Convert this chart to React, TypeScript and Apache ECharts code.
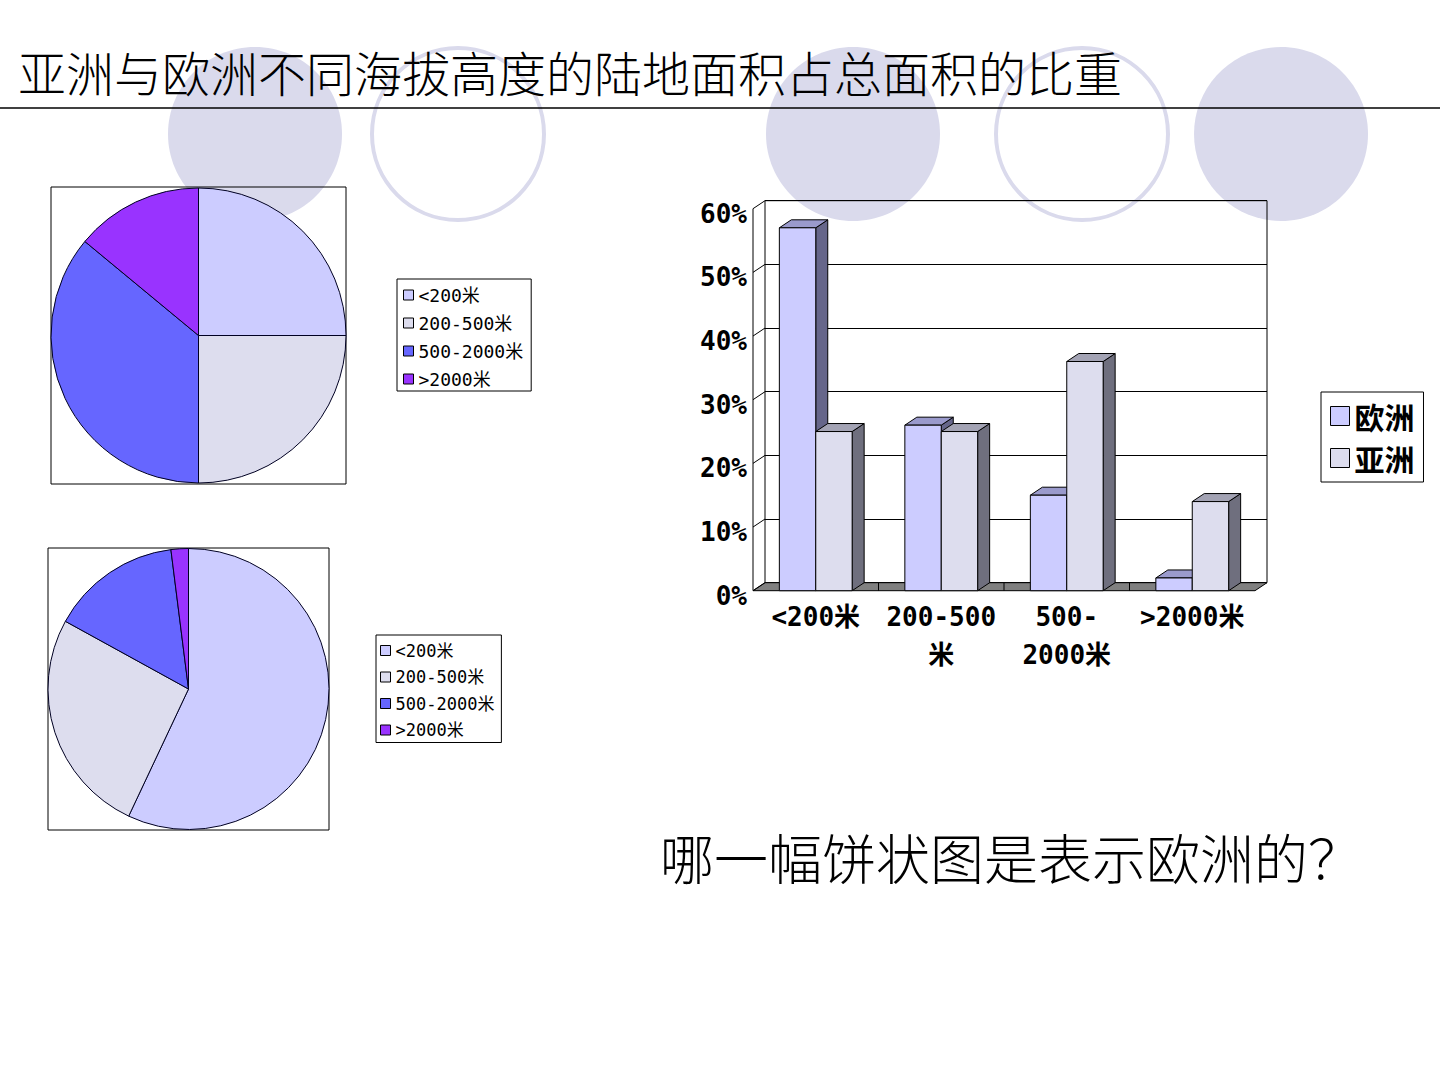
import { useEffect, useRef } from 'react';
import * as echarts from 'echarts';

// Elevation bands, shared by the pies and the bar chart
const heightBands = ['<200米', '200-500米', '500-2000米', '>2000米'];
const barAxisLabels = ['<200米', '200-500\n米', '500-\n2000米', '>2000米'];

// Share of land area in each band (%)
const europeShare = [57, 26, 15, 2];
const asiaShare = [25, 25, 36, 14];

// Value axis ticks (%)
const percentTicks = [0, 10, 20, 30, 40, 50, 60];

const seriesNames = ['欧洲', '亚洲'];
const sliceColors = ['#CCCCFF', '#DDDDEE', '#6666FF', '#9933FF'];

const europeFaces = { front: '#CCCCFF', top: '#9A9ACC', side: '#66668A' };
const asiaFaces = { front: '#DDDDEE', top: '#A3A3B4', side: '#6F6F7E' };

const titleText = '亚洲与欧洲不同海拔高度的陆地面积占总面积的比重';
const questionText = '哪一幅饼状图是表示欧洲的？';

// 3D depth offset of the bar chart (front plane is shifted left/down)
const DX = 12;
const DY = 8;

const CJK = "'Noto Sans CJK SC', sans-serif";
const MONO = "'DejaVu Sans Mono', 'Noto Sans CJK SC', monospace";

type Faces = { front: string; top: string; side: string };

function prismRenderer(slot: number, faces: Faces) {
  return (_params: any, api: any) => {
    const cat = api.value(0);
    const val = api.value(1);
    const top = api.coord([cat, val]);
    const base = api.coord([cat, 0]);
    const band = api.size([1, 0])[0];
    const w = band * 0.29;
    const bx = slot === 0 ? top[0] - w : top[0];
    const yt = top[1];
    const yb = base[1];
    const fx = bx - DX;
    const edge = { stroke: '#000', lineWidth: 1 };
    return {
      type: 'group',
      children: [
        {
          type: 'polygon',
          shape: { points: [[fx + w, yt + DY], [bx + w, yt], [bx + w, yb], [fx + w, yb + DY]] },
          style: { fill: faces.side, ...edge },
        },
        {
          type: 'polygon',
          shape: { points: [[fx, yt + DY], [fx + w, yt + DY], [bx + w, yt], [bx, yt]] },
          style: { fill: faces.top, ...edge },
        },
        {
          type: 'rect',
          shape: { x: fx, y: yt + DY, width: w, height: yb - yt },
          style: { fill: faces.front, ...edge },
        },
      ],
    };
  };
}

// Side wall, floor and front axis of the 3D plot area
function wallRenderer(params: any, api: any) {
  const cs = params.coordSys;
  const x0 = cs.x;
  const v = api.value(1);
  const y = api.coord([0, v])[1];
  const children: any[] = [
    {
      type: 'line',
      shape: { x1: x0 - DX, y1: y + DY, x2: x0, y2: y },
      style: { stroke: '#000', lineWidth: 1 },
    },
  ];
  if (v === 0) {
    const yTop = api.coord([0, percentTicks[percentTicks.length - 1]])[1];
    const band = api.size([1, 0])[0];
    children.unshift({
      type: 'polygon',
      shape: {
        points: [[x0, y], [x0 + cs.width, y], [x0 + cs.width - DX, y + DY], [x0 - DX, y + DY]],
      },
      style: { fill: '#808080', stroke: '#000', lineWidth: 1 },
    });
    for (let k = 1; k < heightBands.length; k++) {
      children.push({
        type: 'line',
        shape: { x1: x0 - DX + k * band, y1: y + DY, x2: x0 - DX + k * band, y2: y },
        style: { stroke: '#000', lineWidth: 1 },
      });
    }
    children.push({
      type: 'line',
      shape: { x1: x0 - DX, y1: y + DY, x2: x0 - DX, y2: yTop + DY },
      style: { stroke: '#000', lineWidth: 1 },
    });
  }
  return { type: 'group', children };
}

function pieLegend(left: number, top: number, fontSize: number, gap: number, padding: number[]) {
  return {
    data: heightBands,
    orient: 'vertical',
    left,
    top,
    padding,
    itemGap: gap,
    itemWidth: 10,
    itemHeight: 10,
    icon: 'rect',
    selectedMode: false,
    borderColor: '#000',
    borderWidth: 1,
    backgroundColor: '#fff',
    itemStyle: { borderColor: '#000', borderWidth: 1 },
    textStyle: { fontSize, lineHeight: fontSize + 2, color: '#000', fontFamily: MONO },
  };
}

function pieSeries(name: string, values: number[], center: number[], radius: number) {
  return {
    type: 'pie',
    name,
    center,
    radius,
    startAngle: 90,
    clockwise: true,
    silent: true,
    label: { show: false },
    labelLine: { show: false },
    itemStyle: { borderColor: '#000022', borderWidth: 1 },
    data: heightBands.map((n, i) => ({ name: n, value: values[i], itemStyle: { color: sliceColors[i] } })),
  };
}

const circleFill = '#DADAEC';
const decoCircles = [
  { cx: 255, cy: 134, fill: true },
  { cx: 458, cy: 134, fill: false },
  { cx: 853, cy: 134, fill: true },
  { cx: 1082, cy: 134, fill: false },
  { cx: 1281, cy: 134, fill: true },
];

export default function App() {
  const ref = useRef<HTMLDivElement>(null);

  useEffect(() => {
    if (!ref.current) return;
    const chart = echarts.init(ref.current, undefined, { renderer: 'svg' });

    const graphics: any[] = decoCircles.map((c) => ({
      type: 'ellipse',
      z: -10,
      shape: { cx: c.cx, cy: c.cy, rx: c.fill ? 87 : 86, ry: c.fill ? 87 : 86 },
      style: c.fill
        ? { fill: circleFill, stroke: 'none' }
        : { fill: 'none', stroke: circleFill, lineWidth: 4 },
      silent: true,
    }));

    graphics.push(
      {
        type: 'text',
        x: 18,
        y: 71,
        style: {
          text: titleText,
          fontSize: 48,
          fontWeight: 300,
          fontFamily: CJK,
          fill: '#000',
          verticalAlign: 'middle',
          textVerticalAlign: 'middle',
        },
      },
      {
        type: 'line',
        shape: { x1: 0, y1: 108, x2: 1440, y2: 108 },
        style: { stroke: '#000', lineWidth: 1.5 },
      },
      {
        type: 'rect',
        shape: { x: 51, y: 187, width: 295, height: 297 },
        style: { fill: 'none', stroke: '#000', lineWidth: 1 },
      },
      {
        type: 'rect',
        shape: { x: 48, y: 548, width: 281, height: 282 },
        style: { fill: 'none', stroke: '#000', lineWidth: 1 },
      },
      {
        type: 'text',
        x: 660,
        y: 856,
        style: {
          text: questionText,
          fontSize: 54,
          fontWeight: 300,
          fontFamily: CJK,
          fill: '#000',
          verticalAlign: 'middle',
          textVerticalAlign: 'middle',
        },
      }
    );

    chart.setOption({
      animation: false,
      graphic: { elements: graphics },
      legend: [
        pieLegend(397, 279, 18, 8, [6, 8, 2, 6]),
        pieLegend(376, 635, 17, 7.5, [6, 7, 3, 4]),
        {
          data: [
            { name: seriesNames[0], itemStyle: { color: europeFaces.front } },
            { name: seriesNames[1], itemStyle: { color: asiaFaces.front } },
          ],
          orient: 'vertical',
          left: 1321,
          top: 392,
          padding: [9, 9, 9, 9],
          itemGap: 12,
          itemWidth: 19,
          itemHeight: 19,
          icon: 'rect',
          selectedMode: false,
          borderColor: '#000',
          borderWidth: 1,
          backgroundColor: '#fff',
          itemStyle: { borderColor: '#000', borderWidth: 1 },
          textStyle: { fontSize: 30, lineHeight: 30, color: '#000', fontFamily: CJK, fontWeight: 'bold' },
        },
      ],
      grid: {
        left: 765,
        top: 200.7,
        width: 502,
        height: 382,
        show: true,
        borderColor: '#000',
        borderWidth: 1,
        backgroundColor: 'transparent',
      },
      xAxis: {
        type: 'category',
        data: barAxisLabels,
        axisLine: { show: false },
        axisTick: { show: false },
        axisLabel: {
          margin: 15,
          fontSize: 26,
          lineHeight: 38,
          color: '#000',
          fontWeight: 'bold',
          fontFamily: MONO,
          padding: [0, 2 * DX, 0, 0],
          interval: 0,
        },
      },
      yAxis: {
        type: 'value',
        min: percentTicks[0],
        max: percentTicks[percentTicks.length - 1],
        interval: 10,
        axisLine: { show: false },
        axisTick: { show: false },
        splitLine: { lineStyle: { color: '#000', width: 1 } },
        axisLabel: {
          margin: 18,
          fontSize: 26,
          color: '#000',
          fontWeight: 'bold',
          fontFamily: MONO,
          verticalAlign: 'top',
          formatter: '{value}%',
        },
      },
      series: [
        pieSeries('亚洲', asiaShare, [198.5, 335.5], 147.5),
        pieSeries('欧洲', europeShare, [188.5, 689], 140.5),
        {
          type: 'custom',
          name: 'wall',
          silent: true,
          renderItem: wallRenderer,
          encode: { x: 0, y: 1 },
          data: percentTicks.map((v) => [0, v]),
          z: 1,
        },
        {
          type: 'custom',
          name: seriesNames[0],
          silent: true,
          itemStyle: { color: europeFaces.front, borderColor: '#000', borderWidth: 1 },
          renderItem: prismRenderer(0, europeFaces),
          encode: { x: 0, y: 1 },
          data: europeShare.map((v, i) => [i, v]),
          z: 2,
        },
        {
          type: 'custom',
          name: seriesNames[1],
          silent: true,
          itemStyle: { color: asiaFaces.front, borderColor: '#000', borderWidth: 1 },
          renderItem: prismRenderer(1, asiaFaces),
          encode: { x: 0, y: 1 },
          data: asiaShare.map((v, i) => [i, v]),
          z: 3,
        },
      ],
    });

    return () => chart.dispose();
  }, []);

  return (
    <div
      ref={ref}
      style={{ position: 'absolute', left: 0, top: 0, width: 1440, height: 1080, background: '#fff' }}
    />
  );
}
